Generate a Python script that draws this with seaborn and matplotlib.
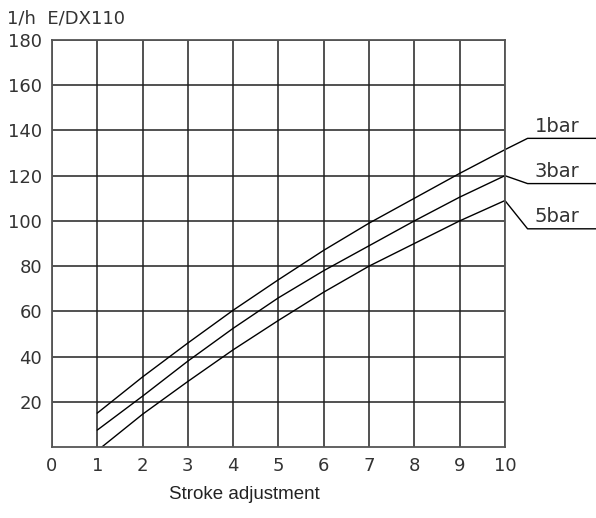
"""Stroke adjustment vs. flow rate chart for E/DX110 pump."""

import matplotlib

matplotlib.use("Agg")
import matplotlib.pyplot as plt
import numpy as np
import pandas as pd
import seaborn as sns

# values
stroke_1bar = [1, 2, 3, 4, 5, 6, 7, 8, 9, 10]
flow_1bar = [15, 31, 46, 60.5, 74, 87, 99, 110, 121, 131.5]
stroke_3bar = [1, 2, 3, 4, 5, 6, 7, 8, 9, 10]
flow_3bar = [7.5, 22.5, 38, 52.5, 66, 78, 89, 100, 110.5, 120]
stroke_5bar = [1.1, 2, 3, 4, 5, 6, 7, 8, 9, 10]
flow_5bar = [0, 14.5, 29, 43, 56, 68.5, 80, 90, 100, 109]

series_names = ["1bar", "3bar", "5bar"]
label_levels = [136.5, 116.5, 96.5]

x_ticks = list(range(0, 11))
y_ticks = [20, 40, 60, 80, 100, 120, 140, 160, 180]

df = pd.concat(
    [
        pd.DataFrame({"stroke": stroke_1bar, "flow": flow_1bar, "pressure": "1bar"}),
        pd.DataFrame({"stroke": stroke_3bar, "flow": flow_3bar, "pressure": "3bar"}),
        pd.DataFrame({"stroke": stroke_5bar, "flow": flow_5bar, "pressure": "5bar"}),
    ],
    ignore_index=True,
)

sns.set_style("white")
plt.rcParams["font.family"] = ["DejaVu Sans"]

fig = plt.figure(figsize=(5.96, 5.18), dpi=100)
ax = fig.add_axes([0.0872, 0.137, 0.76, 0.7858])

sns.lineplot(
    data=df,
    x="stroke",
    y="flow",
    hue="pressure",
    palette=["black"] * 3,
    linewidth=1.0,
    legend=False,
    ax=ax,
    sort=False,
    estimator=None,
)

ax.set_xlim(0, 10)
ax.set_ylim(0, 180)
ax.set_xticks(x_ticks)
ax.set_yticks(y_ticks)
ax.set_xticklabels([str(t) for t in x_ticks], fontsize=13, color="#333333")
ax.set_yticklabels([str(t) for t in y_ticks], fontsize=13, color="#333333")
ax.tick_params(axis="both", length=0, pad=7)
ax.grid(True, color="#222222", linewidth=1.1)
for spine in ax.spines.values():
    spine.set_color("#555555")
    spine.set_linewidth(1.3)

ax.set_xlabel("Stroke adjustment", fontsize=13.5, family="Liberation Sans", color="#222222")
ax.xaxis.set_label_coords(0.424, -0.095)
ax.set_ylabel("")

# leader lines and labels at the right end of each curve
ends = [flow_1bar[-1], flow_3bar[-1], flow_5bar[-1]]
for name, end, level in zip(series_names, ends, label_levels):
    ax.plot([10, 10.5, 12.1], [end, level, level], color="black", lw=1.0, clip_on=False)
    ax.text(10.66, level + 1.2, name, fontsize=14, color="#333333", va="bottom", ha="left",
            clip_on=False)

fig.text(0.012, 0.965, "1/h  E/DX110", fontsize=13, color="#333333", va="center", ha="left")

fig.savefig("out.png", dpi=100)
